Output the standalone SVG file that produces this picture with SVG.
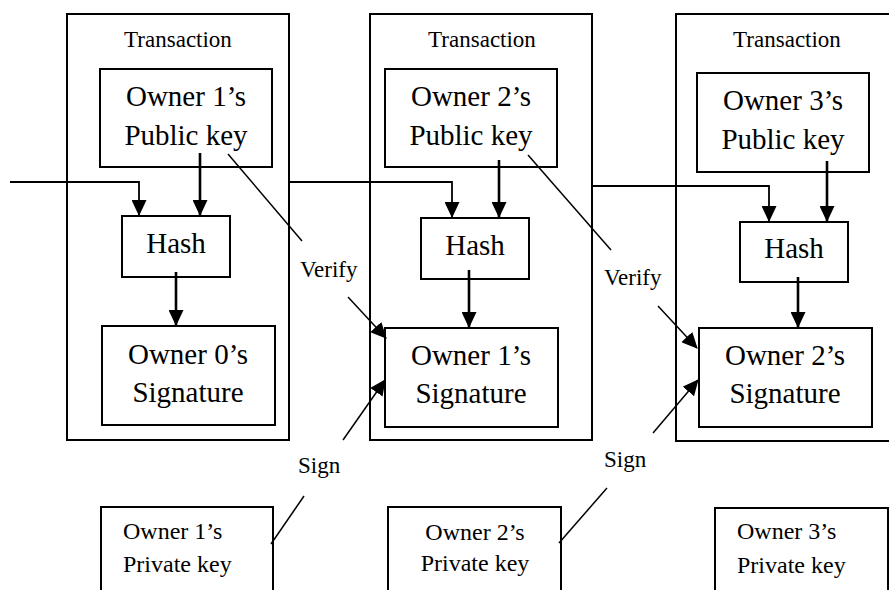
<svg xmlns="http://www.w3.org/2000/svg" width="889" height="590" viewBox="0 0 889 590">
  <style>
    .frame { fill: #fff; stroke: #000; stroke-width: 2; }
    .box { fill: #fff; stroke: #000; stroke-width: 2; }
    .big { font-family: "Liberation Serif", "Times New Roman", serif; font-size: 29px; fill: #000; text-anchor: middle; }
    .small { font-family: "Liberation Serif", "Times New Roman", serif; font-size: 23px; fill: #000; }
    .key { font-size: 24px; }
    .mid { text-anchor: middle; }
    .flow { fill: none; stroke: #000; stroke-width: 1.8; }
    .drop { fill: none; stroke: #000; stroke-width: 2.6; }
    .diag { fill: none; stroke: #000; stroke-width: 1.5; }
  </style>
  <defs>
    <marker id="head" viewBox="0 0 16 15" refX="15" refY="7.5" markerWidth="16" markerHeight="15" markerUnits="userSpaceOnUse" orient="auto">
      <path d="M0,0 L16,7.5 L0,15 z" fill="#000"/>
    </marker>
  </defs>

  <rect width="889" height="590" fill="#fff"/>

  <!-- transaction frames -->
  <g id="tx1">
    <rect class="frame" x="67" y="14" width="222" height="426"/>
    <text class="small mid" x="178" y="47">Transaction</text>
  </g>
  <g id="tx2">
    <rect class="frame" x="370" y="14" width="222" height="426"/>
    <text class="small mid" x="482" y="47">Transaction</text>
  </g>
  <g id="tx3">
    <rect class="frame" x="676" y="14" width="230" height="427"/>
    <text class="small mid" x="787" y="47">Transaction</text>
  </g>

  <!-- public keys -->
  <g id="pub1">
    <rect class="box" x="100" y="69" width="172" height="98"/>
    <text class="big" x="186" y="106">Owner 1’s</text>
    <text class="big" x="186" y="145">Public key</text>
  </g>
  <g id="pub2">
    <rect class="box" x="385" y="69" width="172" height="98"/>
    <text class="big" x="471" y="106">Owner 2’s</text>
    <text class="big" x="471" y="145">Public key</text>
  </g>
  <g id="pub3">
    <rect class="box" x="697" y="73" width="172" height="99"/>
    <text class="big" x="783" y="110">Owner 3’s</text>
    <text class="big" x="783" y="149">Public key</text>
  </g>

  <!-- hashes -->
  <g id="hash1">
    <rect class="box" x="122" y="216" width="108" height="61"/>
    <text class="big" x="176" y="253">Hash</text>
  </g>
  <g id="hash2">
    <rect class="box" x="421" y="218" width="108" height="61"/>
    <text class="big" x="475" y="255">Hash</text>
  </g>
  <g id="hash3">
    <rect class="box" x="740" y="222" width="108" height="60"/>
    <text class="big" x="794" y="258">Hash</text>
  </g>

  <!-- signatures -->
  <g id="sig0">
    <rect class="box" x="102" y="326" width="173" height="99"/>
    <text class="big" x="188" y="364">Owner 0’s</text>
    <text class="big" x="188" y="402">Signature</text>
  </g>
  <g id="sig1">
    <rect class="box" x="385" y="328" width="173" height="99"/>
    <text class="big" x="471" y="365">Owner 1’s</text>
    <text class="big" x="471" y="403">Signature</text>
  </g>
  <g id="sig2">
    <rect class="box" x="699" y="328" width="173" height="99"/>
    <text class="big" x="785" y="365">Owner 2’s</text>
    <text class="big" x="785" y="403">Signature</text>
  </g>

  <!-- private keys -->
  <g id="priv1">
    <rect class="box" x="101" y="507" width="172" height="100"/>
    <text class="small key" x="123" y="539">Owner 1’s</text>
    <text class="small key" x="123" y="572">Private key</text>
  </g>
  <g id="priv2">
    <rect class="box" x="388" y="507" width="173" height="100"/>
    <text class="small key mid" x="475" y="540">Owner 2’s</text>
    <text class="small key mid" x="475" y="571">Private key</text>
  </g>
  <g id="priv3">
    <rect class="box" x="715" y="508" width="173" height="100"/>
    <text class="small key" x="737" y="539">Owner 3’s</text>
    <text class="small key" x="737" y="573">Private key</text>
  </g>

  <!-- connectors -->
  <g id="connectors">
    <path class="flow" d="M10,182 H139 V215" marker-end="url(#head)"/>
    <path class="drop" d="M200,153 V215" marker-end="url(#head)"/>
    <path class="drop" d="M176,272 V325" marker-end="url(#head)"/>

    <path class="flow" d="M289,182 H452 V217" marker-end="url(#head)"/>
    <path class="drop" d="M499,160 V217" marker-end="url(#head)"/>
    <path class="drop" d="M469,270 V327" marker-end="url(#head)"/>

    <path class="flow" d="M592,186 H769 V221" marker-end="url(#head)"/>
    <path class="drop" d="M827,161 V221" marker-end="url(#head)"/>
    <path class="drop" d="M798,277 V327" marker-end="url(#head)"/>

    <!-- verify links -->
    <path class="diag" d="M228,154 L302,241"/>
    <path class="diag" d="M348,297 L386,338" marker-end="url(#head)"/>
    <text class="small" x="300" y="277">Verify</text>

    <path class="diag" d="M528,155 L611,250"/>
    <path class="diag" d="M658,306 L697,348" marker-end="url(#head)"/>
    <text class="small" x="604" y="285">Verify</text>

    <!-- sign links -->
    <path class="diag" d="M271,544 L304,496"/>
    <path class="diag" d="M343,440 L385,380" marker-end="url(#head)"/>
    <text class="small" x="298" y="473">Sign</text>

    <path class="diag" d="M559,543 L607,488"/>
    <path class="diag" d="M653,433 L698,380" marker-end="url(#head)"/>
    <text class="small" x="604" y="467">Sign</text>
  </g>
</svg>
